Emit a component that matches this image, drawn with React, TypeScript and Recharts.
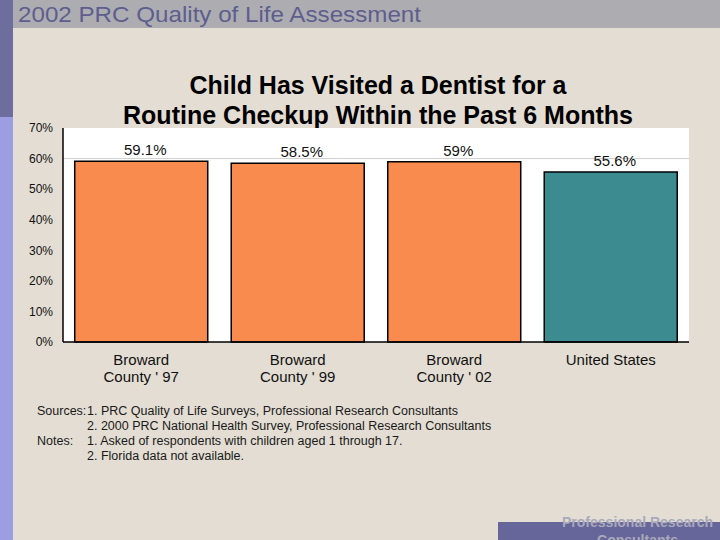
import React from "react";
import { BarChart, Bar, XAxis, YAxis, Cell, LabelList, ReferenceLine, CartesianGrid } from "recharts";

const categories = ["Broward|County ' 97", "Broward|County ' 99", "Broward|County ' 02", "United States"];
const values = [59.1, 58.5, 59, 55.6];
const valueLabels = ["59.1%", "58.5%", "59%", "55.6%"];
const barColors = ["#fa8b4e", "#fa8b4e", "#fa8b4e", "#3b8b90"];
const yTicks = [0, 10, 20, 30, 40, 50, 60, 70];

const data = categories.map((name, i) => ({ name, value: values[i], label: valueLabels[i] }));

const FONT = "'Liberation Sans', Arial, sans-serif";

function CategoryTick(props: any) {
  const { x, y, payload } = props;
  const lines = String(payload.value).split("|");
  return (
    <text x={x} y={y} textAnchor="middle" fontFamily={FONT} fontSize={15} fill="#111">
      {lines.map((l, i) => (
        <tspan key={i} x={x} dy={i === 0 ? 15 : 17}>{l}</tspan>
      ))}
    </text>
  );
}

export default function App() {
  return (
    <div style={{ position: "absolute", left: 0, top: 0, width: 720, height: 540, background: "#e3ddd3", overflow: "hidden", fontFamily: FONT }}>
      {/* left stripe */}
      <div style={{ position: "absolute", left: 0, top: 0, width: 13, height: 117, background: "#6d6d9e" }} />
      <div style={{ position: "absolute", left: 0, top: 117, width: 13, height: 423, background: "#9d9de3" }} />
      {/* header band */}
      <div style={{ position: "absolute", left: 13, top: 0, width: 707, height: 28, background: "#adadb1" }} />

      {/* header + title */}
      <svg style={{ position: "absolute", left: 0, top: 0 }} width={720} height={130}>
        <text x={18} y={22} fontFamily={FONT} fontSize={22} fill="#5e5e8e" textLength={403} lengthAdjust="spacingAndGlyphs">
          2002 PRC Quality of Life Assessment
        </text>
        <text x={378} y={94} textAnchor="middle" fontFamily={FONT} fontWeight="bold" fontSize={26} fill="#000" textLength={377} lengthAdjust="spacingAndGlyphs">
          Child Has Visited a Dentist for a
        </text>
        <text x={378} y={124} textAnchor="middle" fontFamily={FONT} fontWeight="bold" fontSize={26} fill="#000" textLength={510} lengthAdjust="spacingAndGlyphs">
          Routine Checkup Within the Past 6 Months
        </text>
      </svg>

      <div style={{ position: "absolute", left: 0, top: 0 }}>
        <BarChart width={720} height={540} data={data} margin={{ top: 128, right: 31, bottom: 148, left: 13 }} barCategoryGap="7.5%">
          <CartesianGrid horizontal={false} vertical={false} fill="#ffffff" />
          <ReferenceLine y={60} stroke="#cfcfcf" strokeWidth={1} />
          <XAxis dataKey="name" height={50} interval={0} axisLine={{ stroke: "#000", strokeWidth: 1.5 }} tickLine={false} tick={<CategoryTick />} />
          <XAxis xAxisId="top" orientation="top" dataKey="name" height={0} axisLine={{ stroke: "#000", strokeWidth: 1.5 }} tickLine={false} tick={false} />
          <YAxis width={50} domain={[0, 70]} ticks={yTicks} interval={0} tickFormatter={(v) => `${v}%`} axisLine={{ stroke: "#000", strokeWidth: 1.5 }} tickLine={false} tickSize={0} tickMargin={10} tick={{ fontFamily: FONT, fontSize: 12, fill: "#111" }} />
          <YAxis yAxisId="right" orientation="right" width={0} domain={[0, 70]} axisLine={{ stroke: "#000", strokeWidth: 1.5 }} tickLine={false} tick={false} />
          <Bar dataKey="value" stroke="#000" strokeWidth={1.5} isAnimationActive={false}>
            {data.map((d, i) => (
              <Cell key={d.name} fill={barColors[i]} />
            ))}
            <LabelList dataKey="label" position="top" offset={6} dx={4} style={{ fontFamily: FONT, fontSize: 15, fill: "#111" }} />
          </Bar>
        </BarChart>
      </div>

      {/* notes */}
      <div style={{ position: "absolute", left: 37, top: 404, fontSize: 12.5, lineHeight: "15px", color: "#1a1a1a", whiteSpace: "nowrap" }}>
        <div style={{ position: "relative", height: 15 }}>
          <span>Sources:</span><span style={{ position: "absolute", left: 50 }}>1. PRC Quality of Life Surveys, Professional Research Consultants</span>
        </div>
        <div style={{ position: "relative", height: 15 }}>
          <span style={{ position: "absolute", left: 50 }}>2. 2000 PRC National Health Survey, Professional Research Consultants</span>
        </div>
        <div style={{ position: "relative", height: 15 }}>
          <span>Notes:</span><span style={{ position: "absolute", left: 50 }}>1. Asked of respondents with children aged 1 through 17.</span>
        </div>
        <div style={{ position: "relative", height: 15 }}>
          <span style={{ position: "absolute", left: 50 }}>2. Florida data not available.</span>
        </div>
      </div>

      {/* footer box */}
      <div style={{ position: "absolute", left: 498, top: 522, width: 222, height: 18, background: "#66669a" }} />
      <div style={{ position: "absolute", right: 7, top: 513, fontSize: 14, fontWeight: "bold", color: "#a9a9bb", textAlign: "center", lineHeight: "18px", whiteSpace: "nowrap" }}>
        Professional Research<br />Consultants
      </div>
    </div>
  );
}
